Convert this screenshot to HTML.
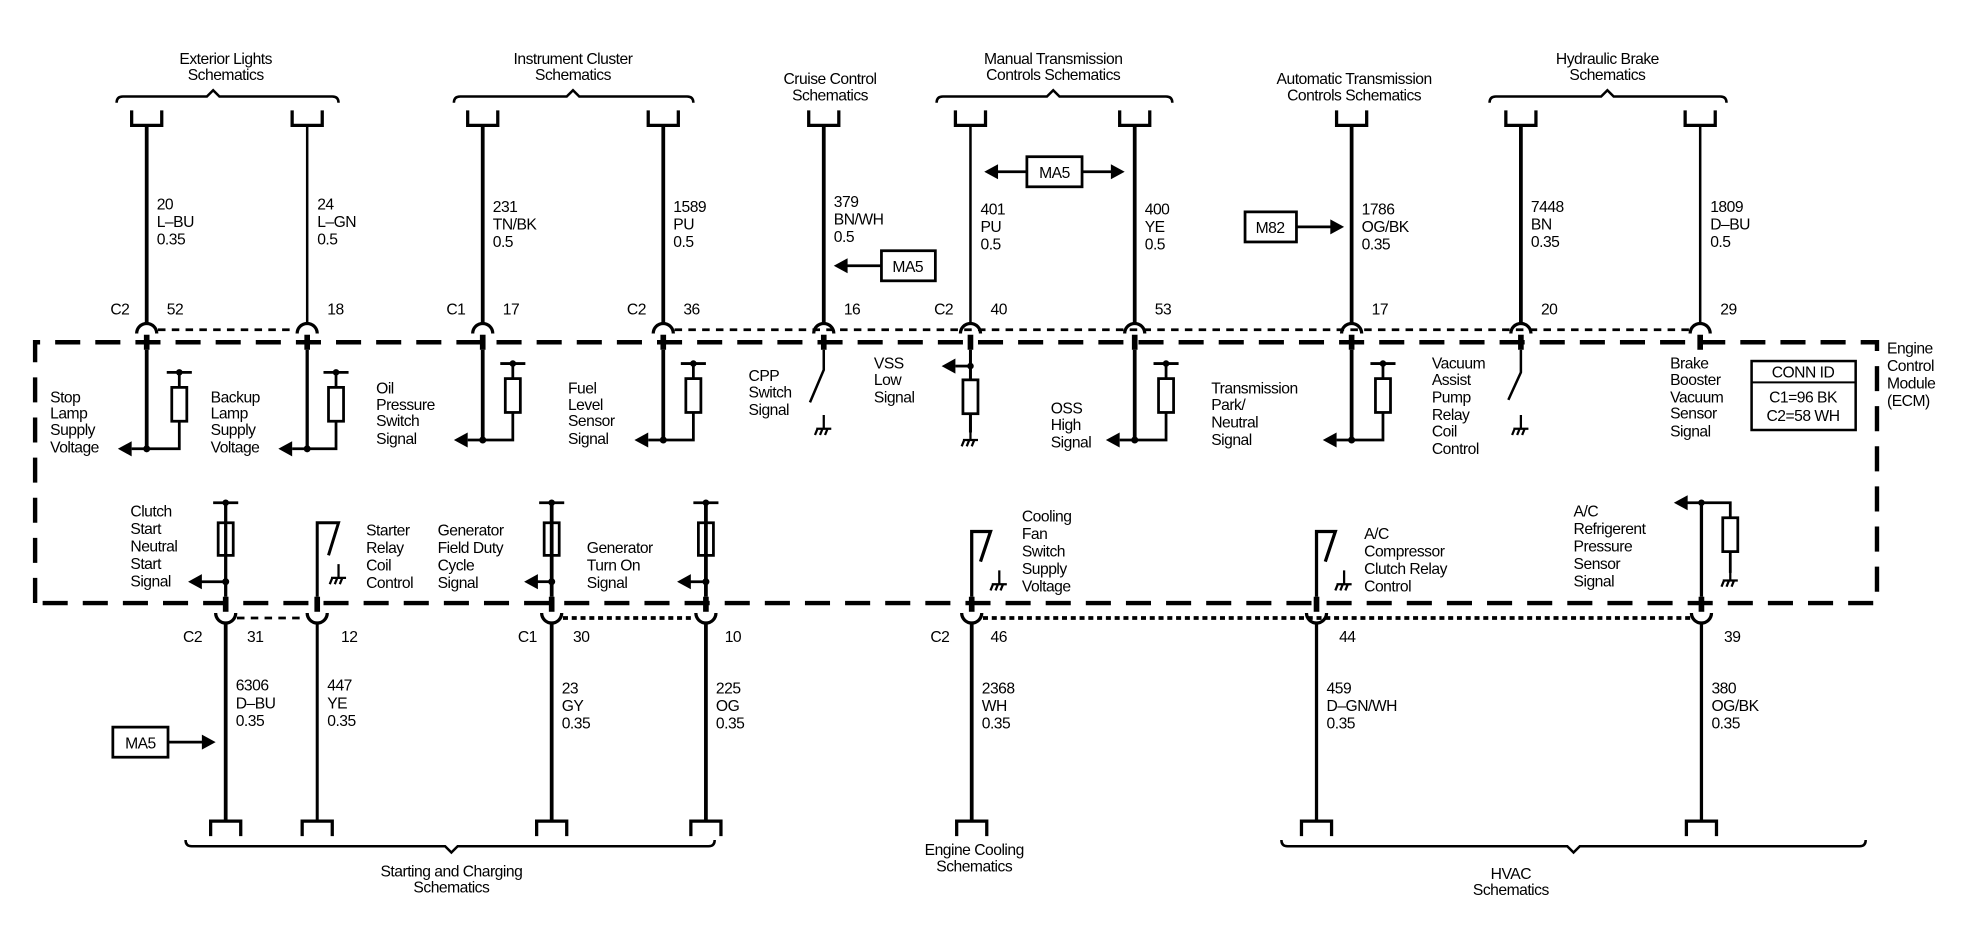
<!DOCTYPE html>
<html><head><meta charset="utf-8"><style>
html,body{margin:0;padding:0;background:#fff;}
svg{display:block;}
text{font-family:"Liberation Sans",Arial,sans-serif;font-size:12.5px;fill:#000;letter-spacing:-0.4px;}
.c{text-anchor:middle;}
</style></head><body>
<svg width="1966" height="944" viewBox="0 0 1568 753" preserveAspectRatio="none" xmlns="http://www.w3.org/2000/svg">
<defs>
<g id="gnd"><path d="M0 0 V11 M-6 11 H6 M-5 11 L-7 16 M-1 11 L-3 16 M3 11 L1 16" stroke="#000" stroke-width="1.8" fill="none"/></g>
<g id="la"><polygon points="0,0 11,-6 11,6" fill="#000"/></g>
<g id="ra"><polygon points="0,0 -11,-6 -11,6" fill="#000"/></g>
<g id="topc"><path d="M-12 88 V100 H12 V88" stroke="#000" stroke-width="2.6" fill="none"/></g>
<g id="botc"><path d="M-12 667 V655 H12 V667" stroke="#000" stroke-width="2.6" fill="none"/></g>
<g id="tarc"><path d="M-8 266 A8 8 0 0 1 8 266" stroke="#000" stroke-width="2.6" fill="none"/><line x1="0" y1="267" x2="0" y2="279" stroke="#000" stroke-width="4.5"/></g>
<g id="barc"><path d="M-8 489 A8 8 0 0 0 8 489" stroke="#000" stroke-width="2.6" fill="none"/><line x1="0" y1="476" x2="0" y2="488" stroke="#000" stroke-width="4.5"/></g>
</defs>

<path d="M28 481 V273 H1497 V481 Z" fill="none" stroke="#000" stroke-width="3.5" stroke-dasharray="20 12"/>

<text class="c" x="180" y="51">Exterior Lights</text><text class="c" x="180" y="64">Schematics</text>
<text class="c" x="457" y="51">Instrument Cluster</text><text class="c" x="457" y="64">Schematics</text>
<text class="c" x="662" y="67">Cruise Control</text><text class="c" x="662" y="80">Schematics</text>
<text class="c" x="840" y="51">Manual Transmission</text><text class="c" x="840" y="64">Controls Schematics</text>
<text class="c" x="1080" y="67">Automatic Transmission</text><text class="c" x="1080" y="80">Controls Schematics</text>
<text class="c" x="1282" y="51">Hydraulic Brake</text><text class="c" x="1282" y="64">Schematics</text>

<g stroke="#000" stroke-width="2" fill="none">
<path d="M93 82 Q93 77 98 77 H165 L170 72 L175 77 H265 Q270 77 270 82"/>
<path d="M362 82 Q362 77 367 77 H452 L457 72 L462 77 H548 Q553 77 553 82"/>
<path d="M747 82 Q747 77 752 77 H835 L840 72 L845 77 H930 Q935 77 935 82"/>
<path d="M1188 82 Q1188 77 1193 77 H1277 L1282 72 L1287 77 H1372 Q1377 77 1377 82"/>
</g>

<g stroke="#000" fill="none">
<line x1="117" y1="100" x2="117" y2="258" stroke-width="3"/>
<line x1="245" y1="100" x2="245" y2="258" stroke-width="2"/>
<line x1="385" y1="100" x2="385" y2="258" stroke-width="3"/>
<line x1="529" y1="100" x2="529" y2="258" stroke-width="3"/>
<line x1="657" y1="100" x2="657" y2="258" stroke-width="3"/>
<line x1="774" y1="100" x2="774" y2="258" stroke-width="2"/>
<line x1="905" y1="100" x2="905" y2="258" stroke-width="3"/>
<line x1="1078" y1="100" x2="1078" y2="258" stroke-width="3"/>
<line x1="1213" y1="100" x2="1213" y2="258" stroke-width="3"/>
<line x1="1356" y1="100" x2="1356" y2="258" stroke-width="2"/>
</g>
<use href="#topc" x="117"/><use href="#topc" x="245"/><use href="#topc" x="385"/><use href="#topc" x="529"/><use href="#topc" x="657"/>
<use href="#topc" x="774"/><use href="#topc" x="905"/><use href="#topc" x="1078"/><use href="#topc" x="1213"/><use href="#topc" x="1356"/>
<use href="#tarc" x="117"/><use href="#tarc" x="245"/><use href="#tarc" x="385"/><use href="#tarc" x="529"/><use href="#tarc" x="657"/>
<use href="#tarc" x="774"/><use href="#tarc" x="905"/><use href="#tarc" x="1078"/><use href="#tarc" x="1213"/><use href="#tarc" x="1356"/>
<g stroke="#000" stroke-width="2.2" stroke-dasharray="6 5">
<line x1="126" y1="263" x2="236" y2="263"/>
<line x1="538" y1="263" x2="1347" y2="263"/>
</g>

<text x="125" y="167">20</text><text x="125" y="181">L–BU</text><text x="125" y="195">0.35</text>
<text x="253" y="167">24</text><text x="253" y="181">L–GN</text><text x="253" y="195">0.5</text>
<text x="393" y="169">231</text><text x="393" y="183">TN/BK</text><text x="393" y="197">0.5</text>
<text x="537" y="169">1589</text><text x="537" y="183">PU</text><text x="537" y="197">0.5</text>
<text x="665" y="165">379</text><text x="665" y="179">BN/WH</text><text x="665" y="193">0.5</text>
<text x="782" y="171">401</text><text x="782" y="185">PU</text><text x="782" y="199">0.5</text>
<text x="913" y="171">400</text><text x="913" y="185">YE</text><text x="913" y="199">0.5</text>
<text x="1086" y="171">1786</text><text x="1086" y="185">OG/BK</text><text x="1086" y="199">0.35</text>
<text x="1221" y="169">7448</text><text x="1221" y="183">BN</text><text x="1221" y="197">0.35</text>
<text x="1364" y="169">1809</text><text x="1364" y="183">D–BU</text><text x="1364" y="197">0.5</text>

<text x="88" y="251">C2</text><text x="133" y="251">52</text>
<text x="261" y="251">18</text>
<text x="356" y="251">C1</text><text x="401" y="251">17</text>
<text x="500" y="251">C2</text><text x="545" y="251">36</text>
<text x="673" y="251">16</text>
<text x="745" y="251">C2</text><text x="790" y="251">40</text>
<text x="921" y="251">53</text>
<text x="1094" y="251">17</text>
<text x="1229" y="251">20</text>
<text x="1372" y="251">29</text>

<g stroke="#000" stroke-width="2.2" fill="none">
<rect x="819" y="125" width="44" height="24"/>
<rect x="703" y="200" width="43" height="24"/>
<rect x="993" y="169" width="41" height="24"/>
<rect x="90" y="580" width="44" height="24"/>
<line x1="795" y1="137" x2="819" y2="137"/><line x1="863" y1="137" x2="887" y2="137"/>
<line x1="675" y1="212" x2="703" y2="212"/>
<line x1="1034" y1="181" x2="1062" y2="181"/>
<line x1="134" y1="592" x2="162" y2="592"/>
</g>
<use href="#la" x="785" y="137"/><use href="#ra" x="897" y="137"/>
<use href="#la" x="665" y="212"/><use href="#ra" x="1072" y="181"/><use href="#ra" x="172" y="592"/>
<text class="c" x="841" y="142">MA5</text><text class="c" x="724" y="217">MA5</text><text class="c" x="1013" y="186">M82</text><text class="c" x="112" y="597">MA5</text>

<g stroke="#000" stroke-width="2.2" fill="none">
<line x1="117" y1="279" x2="117" y2="358" stroke-width="3"/>
<line x1="133" y1="297" x2="153" y2="297"/><path d="M143 297 V309 M143 336 V358 H105"/><rect x="137" y="309" width="12" height="27"/>
<line x1="245" y1="279" x2="245" y2="358" stroke-width="2.6"/>
<line x1="258" y1="297" x2="278" y2="297"/><path d="M268 297 V309 M268 336 V358 H233"/><rect x="262" y="309" width="12" height="27"/>
<line x1="385" y1="279" x2="385" y2="351" stroke-width="3"/>
<line x1="399" y1="290" x2="419" y2="290"/><path d="M409 290 V302 M409 329 V351 H373"/><rect x="403" y="302" width="12" height="27"/>
<line x1="529" y1="279" x2="529" y2="351" stroke-width="3"/>
<line x1="543" y1="290" x2="563" y2="290"/><path d="M553 290 V302 M553 329 V351 H517"/><rect x="547" y="302" width="12" height="27"/>
<path d="M657 279 V295 L646 321" stroke-width="2"/>
<line x1="774" y1="279" x2="774" y2="345" stroke-width="2.4"/>
<line x1="762" y1="292" x2="774" y2="292"/><rect x="768" y="303" width="12" height="27" fill="#fff"/>
<line x1="905" y1="279" x2="905" y2="351" stroke-width="3"/>
<line x1="920" y1="290" x2="940" y2="290"/><path d="M930 290 V302 M930 329 V351 H893"/><rect x="924" y="302" width="12" height="27"/>
<line x1="1078" y1="279" x2="1078" y2="351" stroke-width="3"/>
<line x1="1093" y1="290" x2="1113" y2="290"/><path d="M1103 290 V302 M1103 329 V351 H1066"/><rect x="1097" y="302" width="12" height="27"/>
<path d="M1213 279 V297 L1203 319" stroke-width="2"/>
</g>
<g fill="#000">
<circle cx="143" cy="297" r="2.6"/><circle cx="117" cy="358" r="2.8"/>
<circle cx="268" cy="297" r="2.6"/><circle cx="245" cy="358" r="2.8"/>
<circle cx="409" cy="290" r="2.6"/><circle cx="385" cy="351" r="2.8"/>
<circle cx="553" cy="290" r="2.6"/><circle cx="529" cy="351" r="2.8"/>
<circle cx="774" cy="292" r="2.6"/>
<circle cx="930" cy="290" r="2.6"/><circle cx="905" cy="351" r="2.8"/>
<circle cx="1103" cy="290" r="2.6"/><circle cx="1078" cy="351" r="2.8"/>
</g>
<use href="#la" x="94" y="358"/><use href="#la" x="222" y="358"/><use href="#la" x="362" y="351"/><use href="#la" x="506" y="351"/>
<use href="#la" x="751" y="292"/><use href="#la" x="882" y="351"/><use href="#la" x="1055" y="351"/>
<use href="#gnd" x="657" y="331"/><use href="#gnd" x="774" y="340"/><use href="#gnd" x="1213" y="331"/>

<text x="40" y="321">Stop</text><text x="40" y="334">Lamp</text><text x="40" y="347">Supply</text><text x="40" y="361">Voltage</text>
<text x="168" y="321">Backup</text><text x="168" y="334">Lamp</text><text x="168" y="347">Supply</text><text x="168" y="361">Voltage</text>
<text x="300" y="314">Oil</text><text x="300" y="327">Pressure</text><text x="300" y="340">Switch</text><text x="300" y="354">Signal</text>
<text x="453" y="314">Fuel</text><text x="453" y="327">Level</text><text x="453" y="340">Sensor</text><text x="453" y="354">Signal</text>
<text x="597" y="304">CPP</text><text x="597" y="317">Switch</text><text x="597" y="331">Signal</text>
<text x="697" y="294">VSS</text><text x="697" y="307">Low</text><text x="697" y="321">Signal</text>
<text x="838" y="330">OSS</text><text x="838" y="343">High</text><text x="838" y="357">Signal</text>
<text x="966" y="314">Transmission</text><text x="966" y="327">Park/</text><text x="966" y="341">Neutral</text><text x="966" y="355">Signal</text>
<text x="1142" y="294">Vacuum</text><text x="1142" y="307">Assist</text><text x="1142" y="321">Pump</text><text x="1142" y="335">Relay</text><text x="1142" y="348">Coil</text><text x="1142" y="362">Control</text>
<text x="1332" y="294">Brake</text><text x="1332" y="307">Booster</text><text x="1332" y="321">Vacuum</text><text x="1332" y="334">Sensor</text><text x="1332" y="348">Signal</text>
<text x="1505" y="282">Engine</text><text x="1505" y="296">Control</text><text x="1505" y="310">Module</text><text x="1505" y="324">(ECM)</text>
<rect x="1397" y="288" width="83" height="55" fill="none" stroke="#000" stroke-width="2"/>
<line x1="1397" y1="305" x2="1480" y2="305" stroke="#000" stroke-width="1.6"/>
<text class="c" x="1438" y="301">CONN ID</text><text class="c" x="1438" y="321">C1=96 BK</text><text class="c" x="1438" y="336">C2=58 WH</text>

<g stroke="#000" stroke-width="2.2" fill="none">
<line x1="180" y1="401" x2="180" y2="476" stroke-width="2.6"/>
<line x1="170" y1="401" x2="190" y2="401"/><rect x="174" y="417" width="12" height="26"/><line x1="159" y1="464" x2="180" y2="464"/>
<path d="M253 476 V417 H270 L262 443" stroke-width="2.4"/>
<line x1="440" y1="401" x2="440" y2="476" stroke-width="3"/>
<line x1="430" y1="401" x2="450" y2="401"/><rect x="434" y="417" width="12" height="26"/><line x1="428" y1="464" x2="440" y2="464"/>
<line x1="563" y1="401" x2="563" y2="476" stroke-width="3"/>
<line x1="553" y1="401" x2="573" y2="401"/><rect x="557" y="417" width="12" height="26"/><line x1="550" y1="464" x2="563" y2="464"/>
<path d="M775 476 V424 H790 L782 448" stroke-width="2.6"/>
<path d="M1050 476 V424 H1065 L1057 448" stroke-width="2.6"/>
<line x1="1357" y1="401" x2="1357" y2="476" stroke-width="2.6"/>
<path d="M1345 401 H1380 V413 M1380 440 V457"/><rect x="1374" y="413" width="12" height="27"/>
</g>
<g fill="#000">
<circle cx="180" cy="401" r="2.6"/><circle cx="180" cy="464" r="2.8"/>
<circle cx="440" cy="401" r="2.6"/><circle cx="440" cy="464" r="2.8"/>
<circle cx="563" cy="401" r="2.6"/><circle cx="563" cy="464" r="2.8"/>
<circle cx="1357" cy="401" r="2.6"/>
</g>
<use href="#la" x="150" y="464"/><use href="#la" x="418" y="464"/><use href="#la" x="540" y="464"/><use href="#la" x="1335" y="401"/>
<use href="#gnd" x="270" y="450"/><use href="#gnd" x="797" y="455"/><use href="#gnd" x="1072" y="455"/><use href="#gnd" x="1380" y="452"/>

<text x="104" y="412">Clutch</text><text x="104" y="426">Start</text><text x="104" y="440">Neutral</text><text x="104" y="454">Start</text><text x="104" y="468">Signal</text>
<text x="292" y="427">Starter</text><text x="292" y="441">Relay</text><text x="292" y="455">Coil</text><text x="292" y="469">Control</text>
<text x="349" y="427">Generator</text><text x="349" y="441">Field Duty</text><text x="349" y="455">Cycle</text><text x="349" y="469">Signal</text>
<text x="468" y="441">Generator</text><text x="468" y="455">Turn On</text><text x="468" y="469">Signal</text>
<text x="815" y="416">Cooling</text><text x="815" y="430">Fan</text><text x="815" y="444">Switch</text><text x="815" y="458">Supply</text><text x="815" y="472">Voltage</text>
<text x="1088" y="430">A/C</text><text x="1088" y="444">Compressor</text><text x="1088" y="458">Clutch Relay</text><text x="1088" y="472">Control</text>
<text x="1255" y="412">A/C</text><text x="1255" y="426">Refrigerent</text><text x="1255" y="440">Pressure</text><text x="1255" y="454">Sensor</text><text x="1255" y="468">Signal</text>

<g stroke="#000" fill="none">
<line x1="180" y1="496" x2="180" y2="655" stroke-width="3"/>
<line x1="253" y1="496" x2="253" y2="655" stroke-width="2.4"/>
<line x1="440" y1="496" x2="440" y2="655" stroke-width="3"/>
<line x1="563" y1="496" x2="563" y2="655" stroke-width="3"/>
<line x1="775" y1="496" x2="775" y2="655" stroke-width="3"/>
<line x1="1050" y1="496" x2="1050" y2="655" stroke-width="2.6"/>
<line x1="1357" y1="496" x2="1357" y2="655" stroke-width="2.6"/>
</g>
<use href="#barc" x="180"/><use href="#barc" x="253"/><use href="#barc" x="440"/><use href="#barc" x="563"/>
<use href="#barc" x="775"/><use href="#barc" x="1050"/><use href="#barc" x="1357"/>
<use href="#botc" x="180"/><use href="#botc" x="253"/><use href="#botc" x="440"/><use href="#botc" x="563"/>
<use href="#botc" x="775"/><use href="#botc" x="1050"/><use href="#botc" x="1357"/>
<g stroke="#000" stroke-width="2.2">
<line x1="189" y1="493" x2="244" y2="493" stroke-dasharray="6 5"/>
<line x1="449" y1="493" x2="554" y2="493" stroke-width="3" stroke-dasharray="4 3"/>
<line x1="784" y1="493" x2="1348" y2="493" stroke-width="3" stroke-dasharray="4 3"/>
</g>

<text x="146" y="512">C2</text><text x="197" y="512">31</text>
<text x="272" y="512">12</text>
<text x="413" y="512">C1</text><text x="457" y="512">30</text>
<text x="578" y="512">10</text>
<text x="742" y="512">C2</text><text x="790" y="512">46</text>
<text x="1068" y="512">44</text>
<text x="1375" y="512">39</text>

<text x="188" y="551">6306</text><text x="188" y="565">D–BU</text><text x="188" y="579">0.35</text>
<text x="261" y="551">447</text><text x="261" y="565">YE</text><text x="261" y="579">0.35</text>
<text x="448" y="553">23</text><text x="448" y="567">GY</text><text x="448" y="581">0.35</text>
<text x="571" y="553">225</text><text x="571" y="567">OG</text><text x="571" y="581">0.35</text>
<text x="783" y="553">2368</text><text x="783" y="567">WH</text><text x="783" y="581">0.35</text>
<text x="1058" y="553">459</text><text x="1058" y="567">D–GN/WH</text><text x="1058" y="581">0.35</text>
<text x="1365" y="553">380</text><text x="1365" y="567">OG/BK</text><text x="1365" y="581">0.35</text>

<g stroke="#000" stroke-width="2" fill="none">
<path d="M148 670 Q148 675 153 675 H355 L360 680 L365 675 H565 Q570 675 570 670"/>
<path d="M1022 670 Q1022 675 1027 675 H1250 L1255 680 L1260 675 H1483 Q1488 675 1488 670"/>
</g>
<text class="c" x="360" y="699">Starting and Charging</text><text class="c" x="360" y="712">Schematics</text>
<text class="c" x="777" y="682">Engine Cooling</text><text class="c" x="777" y="695">Schematics</text>
<text class="c" x="1205" y="701">HVAC</text><text class="c" x="1205" y="714">Schematics</text>
</svg>
</body></html>
